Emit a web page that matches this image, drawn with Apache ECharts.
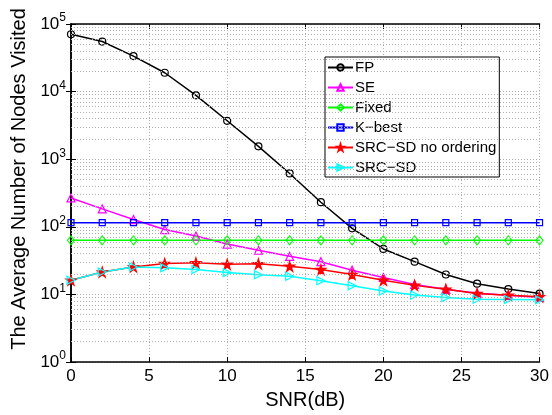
<!DOCTYPE html>
<html><head><meta charset="utf-8">
<script src="https://cdn.jsdelivr.net/npm/echarts@6/dist/echarts.min.js"></script>
<style>html,body{margin:0;padding:0;background:#fff}#c{width:552px;height:415px}</style>
</head><body><div id="c"></div>
<script>
const snr = [0,2,4,6,8,10,12,14,16,18,20,22,24,26,28,30];
const fp = [70500,55000,33500,19000,8800,3700,1550,615,231,95,47,30.5,19.7,14.4,12,10.3];
const se = [267,184,128,91,73,55.6,45,36.6,30.5,22.8,17.8,14,11.9,10.4,9.7,9.0];
const fixed = [63,63,63,63,63,63,63,63,63,63,63,63,63,63,63,63];
const kbest = [115,115,115,115,115,115,115,115,115,115,115,115,115,115,115,115];
const srcNoOrd = [16.2,21.4,25.5,28.6,29.3,27.9,28.3,26,23.3,19.7,16.2,13.6,11.9,10.3,9.7,9.2];
const srcSd = [16.2,21.4,25.5,24.7,23.3,21,19.5,18.6,15.9,13.4,11.2,9.8,9.0,8.5,8.4,8.3];
const names = ['FP','SE','Fixed','K\u2212best','SRC\u2212SD no ordering','SRC\u2212SD'];

const minorVals = [];
for (let e = 0; e < 5; e++) for (let k = 2; k <= 9; k++) minorVals.push(k * Math.pow(10, e));

const star = 'path://M50,0 L61,35 L98,35 L68,57 L79,91 L50,70 L21,91 L32,57 L2,35 L39,35 Z';
const font = 'Liberation Sans';
function mk(name, data, color, symbol, size, filled, rot) {
  return {
    name, type: 'line', data: snr.map((x, i) => [x, data[i]]),
    symbol, symbolSize: size, symbolRotate: rot || 0, showAllSymbol: true,
    lineStyle: {color, width: 1.5},
    itemStyle: {color: filled ? color : 'rgba(255,255,255,0)', borderColor: color, borderWidth: 1.2},
    emphasis: {disabled: true}, z: 3
  };
}
const chart = echarts.init(document.getElementById('c'), null, {renderer: 'canvas'});
const series = [
  mk(names[0], fp, '#000000', 'circle', 7, false),
  mk(names[1], se, '#ff00ff', 'triangle', 8, false),
  mk(names[2], fixed, '#00ff00', 'diamond', [7,9], false),
  mk(names[3], kbest, '#0000ff', 'rect', 6, false),
  mk(names[4], srcNoOrd, '#ff0000', star, 10, true),
  mk(names[5], srcSd, '#00ffff', 'triangle', 8, false, -90),
  {
    type: 'line', data: [], silent: true,
    markLine: {
      silent: true, symbol: 'none', label: {show: false},
      lineStyle: {color: '#b0b0b0', type: [1, 2], width: 1},
      data: minorVals.map(v => ({yAxis: v}))
    }
  }
];
const axisLineStyle = {color: '#000', width: 1.5};
chart.setOption({
  animation: false,
  backgroundColor: '#fff',
  grid: {left: 71, right: 11, top: 24, bottom: 50},
  legend: {
    orient: 'vertical', left: 325, top: 57,
    data: names,
    backgroundColor: '#fff', borderColor: '#000', borderWidth: 1,
    padding: [3, 3, 2, 2], itemGap: 5, itemWidth: 25, itemHeight: 8,
    textStyle: {fontFamily: font, fontSize: 15, color: '#000', padding: [0,0,0,-3]}
  },
  xAxis: [{
    type: 'value', min: 0, max: 30, interval: 5,
    name: 'SNR(dB)', nameLocation: 'middle', nameGap: 28,
    nameTextStyle: {fontFamily: font, fontSize: 20, color: '#000'},
    axisLine: {lineStyle: axisLineStyle},
    axisTick: {inside: true, length: 5, lineStyle: {color: '#000'}},
    axisLabel: {fontFamily: font, fontSize: 17, color: '#000', margin: 6},
    splitLine: {show: true, lineStyle: {color: '#b0b0b0', type: [1, 2], width: 1}}
  }, {
    type: 'value', min: 0, max: 30, interval: 5, position: 'top',
    axisLine: {show: true, lineStyle: axisLineStyle},
    axisTick: {inside: true, length: 5, lineStyle: {color: '#000'}},
    axisLabel: {show: false}, splitLine: {show: false}
  }],
  yAxis: [{
    type: 'log', logBase: 10, min: 1, max: 100000,
    name: 'The Average Number of Nodes Visited', nameLocation: 'middle', nameGap: 38,
    nameTextStyle: {fontFamily: font, fontSize: 20, color: '#000', padding: [0,0,0,28]},
    axisLine: {show: true, lineStyle: axisLineStyle},
    axisTick: {inside: true, length: 5, lineStyle: {color: '#000'}},
    axisLabel: {
      fontFamily: font, fontSize: 17, color: '#000', margin: 5,
      formatter: v => '10{s|' + Math.round(Math.log10(v)) + '}',
      rich: {s: {fontFamily: font, fontSize: 12, color: '#000', verticalAlign: 'top', padding: [0,0,12,0]}}
    },
    splitLine: {show: true, lineStyle: {color: '#b0b0b0', type: [1, 2], width: 1}}
  }, {
    type: 'log', logBase: 10, min: 1, max: 100000, position: 'right',
    axisLine: {show: true, lineStyle: axisLineStyle},
    axisTick: {inside: true, length: 5, lineStyle: {color: '#000'}},
    axisLabel: {show: false}, splitLine: {show: false}
  }],
  series
});
</script></body></html>
